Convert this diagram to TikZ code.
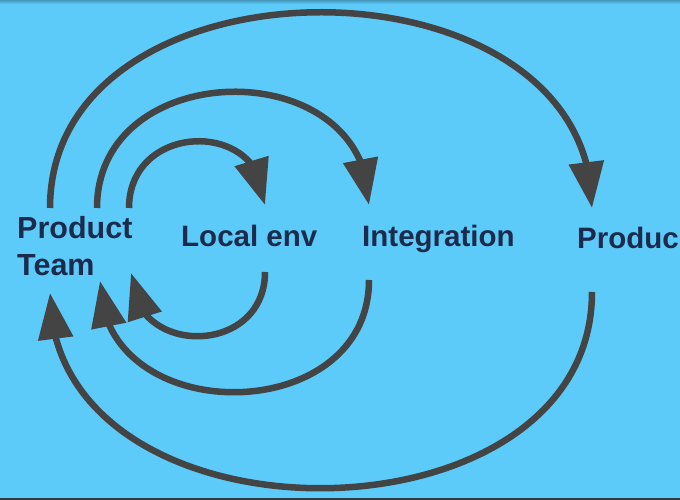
\documentclass[tikz,border=0pt]{standalone}
\usepackage{fontspec}
\setmainfont{Liberation Sans}
\usetikzlibrary{arrows.meta,bending}
\definecolor{sky}{HTML}{5CCBFA}
\definecolor{ink}{HTML}{1C2B4B}
\definecolor{loopgray}{HTML}{444444}
\definecolor{edge}{HTML}{2E3B42}
\tikzset{
word/.style={text=ink, font=\bfseries\fontsize{29.5}{37}\selectfont, inner sep=0pt, anchor=base west},
flow/.style={draw=loopgray, line width=6.5pt, -{Triangle[length=46pt,width=34pt]}}
}
\begin{document}
\begin{tikzpicture}[x=1pt,y=1pt]
\fill[sky] (0,0) rectangle (680,500) ;
\shade[top color=sky!75!black, bottom color=sky] (0,496) rectangle (680,500) ;
\fill[edge] (0,0) rectangle (680,1.5) ;
\useasboundingbox (0,0) rectangle (680,500) ;

\node [word, align=left, font=\bfseries\fontsize{30.5}{37}\selectfont] (team) at (17,224) {Product\\Team} ;
\node [word] (local) at (181,253) {Local env} ;
\node [word] (integ) at (362,253) {Integration} ;
\node [word] (prod) at (577,251) {Produc} ;

\coordinate (o1) at (50,292) ; \coordinate (o2) at (592,292) ;
\coordinate (o3) at (592,208) ; \coordinate (o4) at (50,207) ;
\coordinate (m1) at (97,292) ; \coordinate (m2) at (369,295) ;
\coordinate (m3) at (369,220) ; \coordinate (m4) at (100,219) ;
\coordinate (i1) at (129,292) ; \coordinate (i2) at (265,295) ;
\coordinate (i3) at (265,228) ; \coordinate (i4) at (131,227) ;

\draw[flow] (o1) .. controls +(0,261) and +(0,261) .. (o2) ;
\draw[flow] (m1) .. controls +(0,153) and +(0,153) .. (m2) ;
\draw[flow] (i1) .. controls +(0,87) and +(0,87) .. (i2) ;
\draw[flow] (o3) .. controls +(0,-261) and +(0,-261) .. (o4) ;
\draw[flow] (m3) .. controls +(0,-149) and +(0,-149) .. (m4) ;
\draw[flow] (i3) .. controls +(0,-85) and +(0,-85) .. (i4) ;
\end{tikzpicture}
\end{document}
